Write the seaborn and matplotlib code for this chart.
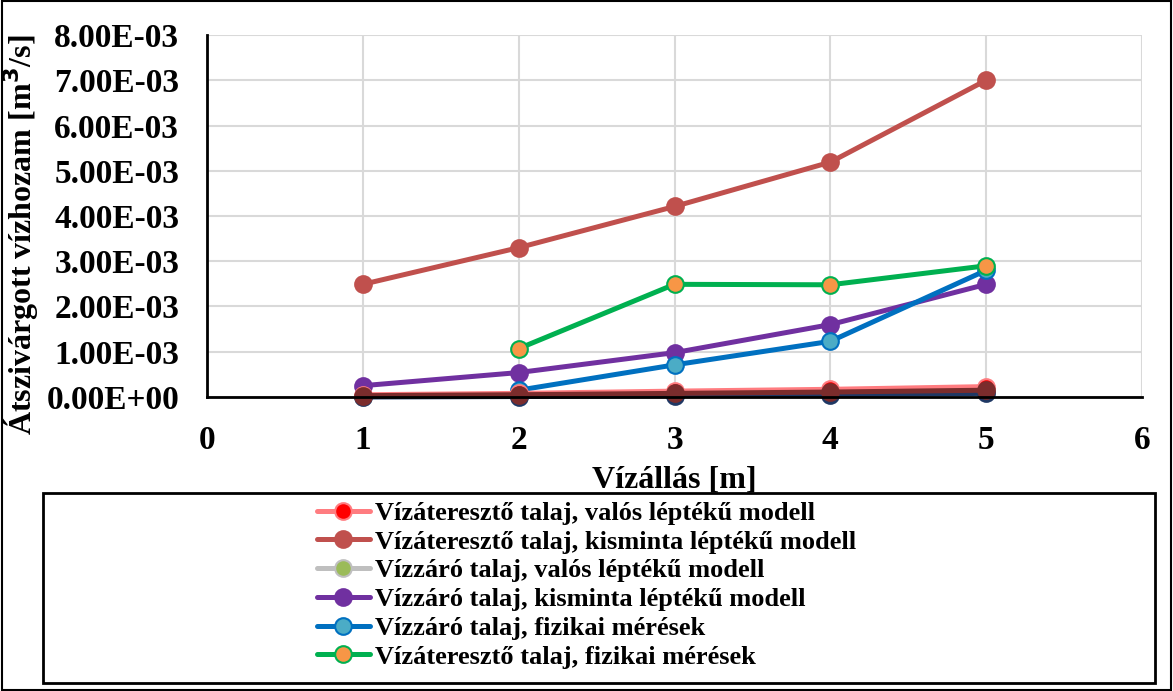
import matplotlib
matplotlib.use("Agg")
import matplotlib.pyplot as plt
from matplotlib.patches import Rectangle
from matplotlib.ticker import FuncFormatter
import seaborn as sns
import pandas as pd

# Water level [m]
levels = [1, 2, 3, 4, 5]

# Seepage discharge [m3/s]
ate_valos = [0.05e-3, 0.08e-3, 0.13e-3, 0.17e-3, 0.23e-3]
ate_kisminta = [2.49e-3, 3.30e-3, 4.21e-3, 5.19e-3, 7.00e-3]
zaro_valos = [0.01e-3, 0.02e-3, 0.04e-3, 0.06e-3, 0.10e-3]
zaro_kisminta = [0.25e-3, 0.54e-3, 0.98e-3, 1.60e-3, 2.49e-3]
meas_levels = [2, 3, 4, 5]
zaro_fizikai = [0.15e-3, 0.71e-3, 1.23e-3, 2.80e-3]
ate_fizikai = [1.07e-3, 2.49e-3, 2.48e-3, 2.90e-3]
# auxiliary curves drawn beneath the model series
aux_a = [0.00e-3, 0.01e-3, 0.03e-3, 0.05e-3, 0.08e-3]
aux_b = [0.03e-3, 0.05e-3, 0.08e-3, 0.11e-3, 0.15e-3]

labels = [
    "Vízáteresztő talaj, valós léptékű modell",
    "Vízáteresztő talaj, kisminta léptékű modell",
    "Vízzáró talaj, valós léptékű modell",
    "Vízzáró talaj, kisminta léptékű modell",
    "Vízzáró talaj, fizikai mérések",
    "Vízáteresztő talaj, fizikai mérések",
]

sns.set_theme(style="whitegrid")
plt.rcParams["font.family"] = ["Liberation Serif", "DejaVu Serif"]
plt.rcParams["font.weight"] = "bold"
for key in ["text.color", "axes.labelcolor", "xtick.color", "ytick.color"]:
    plt.rcParams[key] = "black"

fig = plt.figure(figsize=(11.73, 6.91), dpi=100)
ax = fig.add_axes([207 / 1173, 1 - 397 / 691, (1142 - 207) / 1173, (397 - 35) / 691])

series = [
    (levels, ate_kisminta, "#C0504D", "#C0504D", "#C0504D", labels[1]),
    (levels, zaro_kisminta, "#7030A0", "#7030A0", "#7030A0", labels[3]),
    (meas_levels, zaro_fizikai, "#0070C0", "#4BACC6", "#0070C0", labels[4]),
    (meas_levels, ate_fizikai, "#00B050", "#F79646", "#00B050", labels[5]),
    (levels, zaro_valos, "#BFBFBF", "#9BBB59", "#BFBFBF", labels[2]),
    (levels, aux_a, "#1F3864", "#1F3864", "#1F3864", None),
    (levels, ate_valos, "#FF7C80", "#FF0000", "#FF7C80", labels[0]),
    (levels, aux_b, "#7B2C2C", "#7B2C2C", "#7B2C2C", None),
]

handles = {}
for xs, ys, lc, mfc, mec, lab in series:
    df = pd.DataFrame({"x": xs, "y": ys})
    sns.lineplot(data=df, x="x", y="y", ax=ax, color=lc, linewidth=3.6,
                 marker="o", markersize=12, markerfacecolor=mfc,
                 markeredgecolor=mec, markeredgewidth=1.5, legend=False)
    line = ax.lines[-1]
    line.set_clip_on(False)
    if lab is not None:
        handles[lab] = line

ax.set_xlim(0, 6)
ax.set_ylim(0, 8e-3)
ax.set_xticks(range(0, 7))
ax.set_yticks([i * 1e-3 for i in range(9)])
ax.yaxis.set_major_formatter(FuncFormatter(
    lambda v, p: "0.00E+00" if abs(v) < 1e-12 else f"{v * 1e3:.2f}E-03"))
ax.tick_params(axis="both", length=0, labelsize=24, labelcolor="black")
ax.tick_params(axis="y", pad=20)
ax.tick_params(axis="x", pad=20)
for t in ax.get_xticklabels() + ax.get_yticklabels():
    t.set_fontweight("bold")
ax.grid(True, color="#D9D9D9", linewidth=1.5)
for s in ["top", "right"]:
    ax.spines[s].set_visible(False)
for s in ["left", "bottom"]:
    ax.spines[s].set_color("black")
    ax.spines[s].set_linewidth(2)

ax.set_xlabel("Vízállás [m]", fontsize=23, fontweight="bold", color="black")
ax.set_ylabel("Átszivárgott vízhozam [m$^{\\mathbf{3}}$/s]", fontsize=23,
              fontweight="bold", color="black")
ax.xaxis.set_label_coords((674 - 207) / 935, -(466 - 397) / 362)
ax.yaxis.set_label_coords(-(207 - 41) / 935, (397 - 235) / 362)

# legend box spanning the lower part of the figure
box = Rectangle((43 / 1173, 1 - 683 / 691), (1155 - 43) / 1173, (683 - 493) / 691,
                transform=fig.transFigure, fill=False, edgecolor="black",
                linewidth=2)
fig.add_artist(box)
fig.legend([handles[l] for l in labels], labels, loc="center",
           bbox_to_anchor=(0.5, 1 - 585 / 691), frameon=False,
           prop={"family": "Liberation Serif", "weight": "bold", "size": 19},
           handlelength=2.0, labelspacing=0.2, handletextpad=0.2,
           borderpad=0, labelcolor="black")

# outer border
fig.add_artist(Rectangle((0.002, 0.002), 0.996, 0.996, transform=fig.transFigure,
                         fill=False, edgecolor="black", linewidth=1.5))

fig.savefig("out.png", dpi=100)
